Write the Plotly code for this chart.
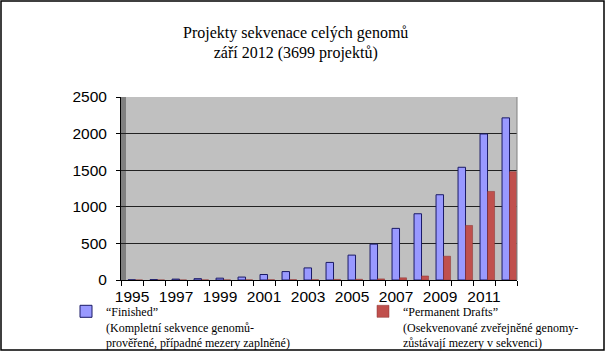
import plotly.graph_objects as go

years = list(range(1995, 2013))
finished = [2, 5, 12, 18, 25, 40, 75, 115, 165, 240, 340, 490, 705, 905, 1165, 1540, 1995, 2215]
drafts = [1, 1, 1, 2, 2, 3, 4, 5, 5, 8, 10, 15, 30, 55, 325, 745, 1210, 1480]
xtick_vals = list(range(1995, 2012, 2))
xtick_text = [str(y) for y in xtick_vals]
ytick_vals = [0, 500, 1000, 1500, 2000, 2500]

name_finished = "“Finished”<br>(Kompletní sekvence genomů-<br>prověřené, případné mezery zaplněné)"
name_drafts = "“Permanent Drafts”<br>(Osekvenované zveřejněné genomy-<br>zůstávají mezery v sekvenci)"

fig = go.Figure()
fig.add_trace(go.Bar(
    x=years, y=finished, name=name_finished, legend="legend",
    offset=-0.18, width=0.34,
    marker=dict(color="#9999FF", line=dict(color="#1A1A66", width=1)),
))
fig.add_trace(go.Bar(
    x=years, y=drafts, name=name_drafts, legend="legend2",
    offset=0.16, width=0.32,
    marker=dict(color="#C0504D", line=dict(color="#8A3230", width=0.5)),
))

L, R, T, B = 121, 89, 97, 72
W, H = 606, 352
pw, ph = W - L - R, H - T - B

def px_x(px):
    return (px - L) / pw

def px_y(py):
    return (H - B - py) / ph

legend_common = dict(
    orientation="v",
    xref="container", xanchor="left",
    yref="container", yanchor="top",
    font=dict(family="Liberation Serif", size=12, color="black"),
    valign="top", itemwidth=30,
    bgcolor="rgba(0,0,0,0)", borderwidth=0,
)

fig.update_layout(
    width=W, height=H,
    margin=dict(l=L, r=R, t=T, b=B, pad=0, autoexpand=False),
    paper_bgcolor="white",
    plot_bgcolor="#C0C0C0",
    barmode="overlay",
    showlegend=True,
    title=dict(
        text="Projekty sekvenace celých genomů<br>září 2012 (3699 projektů)",
        x=0.488, xanchor="center", xref="container",
        y=1 - 37.5 / H, yanchor="middle", yref="container",
        font=dict(family="Liberation Serif", size=16, color="black"),
    ),
    xaxis=dict(
        range=[1994.5, 2012.5],
        tickmode="array", tickvals=xtick_vals, ticktext=xtick_text,
        ticks="", showgrid=False, zeroline=False,
        showline=True, linecolor="black", linewidth=1,
        tickfont=dict(family="Liberation Sans", size=15.5, color="black"),
        ticklabelstandoff=2,
        minor=dict(tickmode="linear", tick0=0.5, dtick=1, ticks="outside",
                   ticklen=5, tickcolor="black", showgrid=False),
    ),
    yaxis=dict(
        range=[0, 2500],
        tickmode="array", tickvals=ytick_vals,
        ticks="outside", ticklen=4, tickcolor="black",
        showgrid=True, gridcolor="#222222", gridwidth=1,
        zeroline=False, showline=True, linecolor="black", linewidth=1,
        tickfont=dict(family="Liberation Sans", size=15.5, color="black"),
        ticklabelstandoff=6,
    ),
    legend=dict(x=66 / W, y=1 - 297 / H, **legend_common),
    legend2=dict(x=363 / W, y=1 - 297 / H, **legend_common),
    shapes=[
        dict(type="rect", xref="paper", yref="paper",
             x0=0, x1=px_x(126), y0=0, y1=1,
             fillcolor="#808080", line=dict(width=0), layer="below"),
        dict(type="line", xref="paper", yref="paper",
             x0=1, x1=1, y0=0, y1=1,
             line=dict(color="#808080", width=1)),
        dict(type="rect", xref="paper", yref="paper",
             x0=px_x(1), x1=px_x(604), y0=px_y(1), y1=px_y(350),
             fillcolor="rgba(0,0,0,0)", line=dict(color="black", width=1.5)),
    ],
)

fig.write_html("out.html")
